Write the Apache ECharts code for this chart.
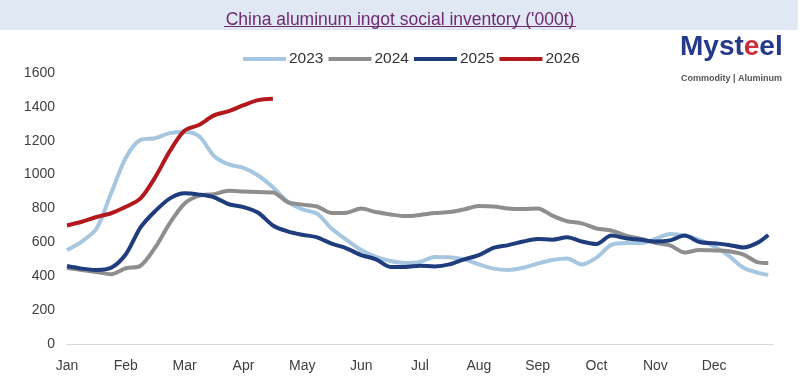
<!DOCTYPE html>
<html>
<head>
<meta charset="utf-8">
<script src="https://cdn.jsdelivr.net/npm/echarts@6/dist/echarts.min.js"></script>
<style>
html,body{margin:0;padding:0;background:#fff;}
#c{width:800px;height:389px;}
</style>
</head>
<body>
<div id="c"></div>
<script>
// tick labels
var monthLabels = ['Jan','Feb','Mar','Apr','May','Jun','Jul','Aug','Sep','Oct','Nov','Dec'];
var yTicks = [0,200,400,600,800,1000,1200,1400,1600];
// x positions in months from Jan 1 (weekly samples)
var xPos = [0,0.25,0.5,0.75,1,1.25,1.5,1.75,2,2.25,2.5,2.75,3,3.25,3.5,3.75,4,4.25,4.5,4.75,5,5.25,5.5,5.75,6,6.25,6.5,6.75,7,7.25,7.5,7.75,8,8.25,8.5,8.75,9,9.25,9.5,9.75,10,10.25,10.5,10.75,11,11.25,11.5,11.75,11.92];
// series values ('000t)
var s2023 = [555,605,680,890,1100,1205,1215,1245,1252,1225,1110,1060,1040,995,925,840,795,770,680,615,555,515,490,478,485,514,512,500,470,445,437,450,475,496,505,470,510,585,596,596,620,650,640,615,575,520,450,420,408];
var s2024 = [449,437,425,412,447,462,570,715,830,876,885,905,900,897,895,838,823,812,773,775,800,779,765,755,762,773,779,795,815,812,800,797,800,758,725,712,682,670,640,622,598,582,540,555,552,548,528,482,478];
var s2025 = [460,445,437,450,530,688,785,860,890,882,866,825,808,775,700,665,645,630,592,565,525,500,455,455,462,458,470,500,525,568,584,605,620,616,630,605,590,640,624,615,605,612,640,602,595,585,570,600,643];
var s2026 = [700,722,750,772,810,860,985,1140,1260,1295,1350,1375,1410,1440,1448];

function pairs(vals){ return vals.map(function(v,i){ return [xPos[i], v]; }); }

var chart = echarts.init(document.getElementById('c'), null, {renderer:'canvas'});
var font = '"Liberation Sans", Arial, sans-serif';
var lw = 4;
chart.setOption({
  backgroundColor:'#ffffff',
  animation:false,
  title:{
    text:"China aluminum ingot social inventory ('000t)",
    left:'center', top:6,
    textStyle:{fontFamily:font, fontSize:17.5, fontWeight:'normal', color:'#6e2a72'}
  },
  graphic:[
    {type:'rect', z:-10, shape:{x:0,y:0,width:798,height:30}, style:{fill:'#dfe8f3'}},
    {type:'line', z:10, shape:{x1:224,y1:26.5,x2:576,y2:26.5}, style:{stroke:'#6e2a72', lineWidth:1}},
    {type:'text', left:680, top:33, style:{
      text:'{a|Myst}{b|e}{a|el}',
      rich:{
        a:{fontFamily:font, fontSize:28, fontWeight:'bold', fill:'#26398a', textFill:'#26398a', color:'#26398a'},
        b:{fontFamily:font, fontSize:28, fontWeight:'bold', fill:'#c8303c', textFill:'#c8303c', color:'#c8303c'}
      }
    }},
    {type:'text', left:681, top:74, style:{text:'Commodity | Aluminum', font:'bold 9px ' + font, fill:'#555555'}}
  ],
  legend:{
    top:46, left:238,
    itemWidth:43, itemHeight:4, itemGap:5,
    icon:'rect',
    textStyle:{fontFamily:font, fontSize:15.5, color:'#333333', padding:[0,0,0,-2]},
    data:['2023','2024','2025','2026']
  },
  grid:{left:67, right:27, top:73, bottom:45, containLabel:false},
  xAxis:{
    type:'value', min:0, max:12, interval:1,
    axisLine:{show:true, lineStyle:{color:'#d9d9d9', width:1}},
    axisTick:{show:false},
    splitLine:{show:false},
    axisLabel:{
      margin:15, fontFamily:font, fontSize:14, color:'#404040',
      formatter:function(v){ var i=Math.round(v); return i<monthLabels.length ? monthLabels[i] : ''; }
    }
  },
  yAxis:{
    type:'value', min:yTicks[0], max:yTicks[yTicks.length-1], interval:200,
    axisLine:{show:false}, axisTick:{show:false}, splitLine:{show:false},
    axisLabel:{margin:12, fontFamily:font, fontSize:14, color:'#404040',
      formatter:function(v){ return String(v); }}
  },
  series:[
    {name:'2023', type:'line', data:pairs(s2023), showSymbol:false, smooth:0.3, lineStyle:{width:lw, color:'#a7c6df'}, itemStyle:{color:'#a7c6df'}},
    {name:'2024', type:'line', data:pairs(s2024), showSymbol:false, smooth:0.3, lineStyle:{width:lw, color:'#8e8e8e'}, itemStyle:{color:'#8e8e8e'}},
    {name:'2025', type:'line', data:pairs(s2025), showSymbol:false, smooth:0.3, lineStyle:{width:lw, color:'#1f3c7d'}, itemStyle:{color:'#1f3c7d'}},
    {name:'2026', type:'line', data:pairs(s2026), showSymbol:false, smooth:0.3, lineStyle:{width:lw, color:'#b3191c'}, itemStyle:{color:'#b3191c'}}
  ]
});
</script>
</body>
</html>
